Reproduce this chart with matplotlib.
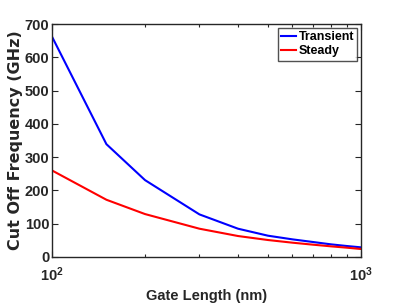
import matplotlib
matplotlib.use("Agg")
import matplotlib.pyplot as plt
from matplotlib.ticker import LogLocator, NullFormatter

gate_length = [100, 150, 200, 300, 400, 500, 600, 700, 800, 900, 1000]
transient = [662, 339, 231, 128, 85, 64, 53, 45, 38, 33, 29]
steady = [260, 172, 129, 85, 63, 51, 43, 37, 32, 28, 24]

narrow = 'Liberation Sans'

plt.rcParams['font.family'] = narrow
plt.rcParams['font.weight'] = 'bold'
plt.rcParams['mathtext.fontset'] = 'custom'
plt.rcParams['mathtext.rm'] = narrow + ':bold'
plt.rcParams['mathtext.default'] = 'rm'

fig = plt.figure(figsize=(3.99, 3.07), dpi=100)
ax = fig.add_axes([52 / 399, 1 - 257 / 307, 309 / 399, 233 / 307])

ax.plot(gate_length, transient, color='#0000ff', lw=1.5, label='Transient')
ax.plot(gate_length, steady, color='#ff0000', lw=1.5, label='Steady')

ax.set_xscale('log')
ax.set_xlim(100, 1000)
ax.set_ylim(0, 700)
ax.set_yticks(range(0, 701, 100))
ax.xaxis.set_minor_locator(LogLocator(base=10, subs=range(2, 10)))
ax.xaxis.set_minor_formatter(NullFormatter())

ax.tick_params(which='both', direction='in', top=True, right=True,
               labelsize=10.5, colors='#262626', labelcolor='#262626')
ax.tick_params(which='major', length=4, width=0.8)
ax.tick_params(which='minor', length=2.5, width=0.8)
ax.tick_params(axis='x', pad=6)
ax.tick_params(axis='y', pad=2)
for s in ax.spines.values():
    s.set_color('#262626')
    s.set_linewidth(1.0)

ax.set_xlabel('Gate Length (nm)', fontsize=10.5, fontweight='bold',
              color='#262626', labelpad=4)
ax.set_ylabel('Cut Off Frequency (GHz)', fontsize=11.5, fontweight='bold',
              family='DejaVu Sans', color='#262626', labelpad=1)

leg = ax.legend(loc='upper right', handlelength=1.2,
                prop={'weight': 'bold', 'size': 9},
                handletextpad=0.2, borderpad=0.25, labelspacing=0.2,
                fancybox=False, borderaxespad=0.3)
leg.get_frame().set_edgecolor('#262626')
leg.get_frame().set_linewidth(1.0)

fig.savefig('out.png', dpi=100)
